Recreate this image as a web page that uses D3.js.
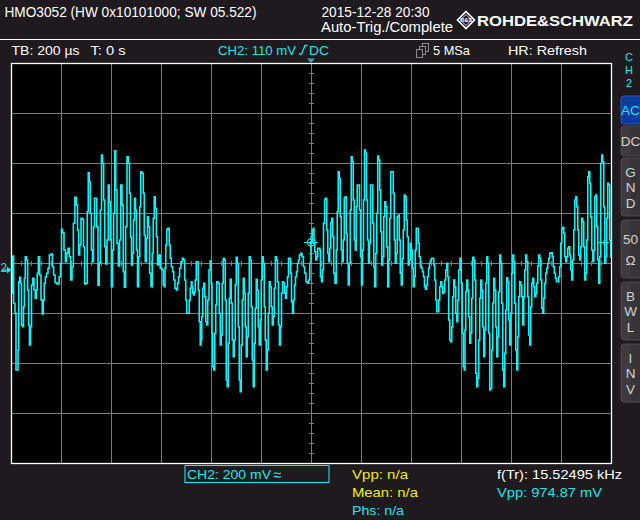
<!DOCTYPE html>
<html><head><meta charset="utf-8">
<script src="https://cdn.jsdelivr.net/npm/d3@7"></script>
<style>
html,body{margin:0;padding:0;background:#1e1a1e;overflow:hidden}
text{font-family:"Liberation Sans",Arial,sans-serif;white-space:pre}
</style>
</head><body><svg id="c" width="640" height="520"></svg>
<script>
// ---- data (time in µs, voltage in mV relative to CH2 ground) ----
const trace = [
[-1197,27],[-1196,-93],[-1192,56],[-1187,-133],[-1181,-173],[-1179,-400],[-1173,-400],[-1171,-320],[-1167,-47],[-1163,-29],
[-1160,-53],[-1156,-220],[-1152,-227],[-1148,-147],[-1145,-33],[-1141,53],[-1136,40],[-1131,-80],[-1128,-220],[-1124,-300],
[-1120,-227],[-1116,-60],[-1111,-33],[-1105,-80],[-1101,-113],[-1097,-80],[-1093,-13],[-1088,53],[-1083,-20],[-1077,-120],
[-1073,-176],[-1069,-120],[-1065,-53],[-1060,-27],[-1055,-13],[-1049,7],[-1044,60],[-1037,64],[-1032,13],[-1027,-20],
[-1020,-51],[-1011,-56],[-1004,-27],[-1000,27],[-996,163],[-991,149],[-985,80],[-980,33],[-975,67],[-969,87],
[-964,53],[-959,-40],[-953,13],[-948,187],[-941,291],[-936,260],[-932,160],[-927,60],[-923,100],[-917,207],
[-912,203],[-908,93],[-903,-56],[-897,-53],[-893,233],[-889,389],[-885,353],[-881,227],[-876,80],[-872,33],
[-868,173],[-864,287],[-859,287],[-855,173],[-849,-61],[-845,27],[-840,240],[-836,460],[-832,427],[-827,280],
[-823,93],[-819,24],[-813,120],[-809,340],[-805,273],[-801,120],[-796,-67],[-792,80],[-787,227],[-783,477],
[-779,320],[-773,107],[-768,16],[-763,120],[-759,340],[-753,260],[-749,-7],[-744,-69],[-739,173],[-733,453],
[-728,427],[-724,307],[-720,133],[-716,20],[-712,67],[-708,200],[-704,287],[-700,240],[-696,80],[-692,-67],
[-687,53],[-683,253],[-679,393],[-673,387],[-669,307],[-665,140],[-661,33],[-656,127],[-652,213],[-648,173],
[-643,-13],[-637,-67],[-633,67],[-629,207],[-625,293],[-621,247],[-616,133],[-612,20],[-607,60],
[-599,7],[-593,0],[-589,-60],[-585,-67],[-583,7],[-579,100],[-575,163],[-569,167],[-565,100],[-561,47],
[-556,13],[-551,-7],[-547,-40],[-541,-73],[-536,-80],[-532,-53],[-528,-27],[-523,7],[-517,33],[-512,47],
[-507,40],[-503,-40],[-499,-120],[-495,-173],[-489,-173],[-485,-120],[-481,-73],[-477,-47],[-475,-67],[-471,-93],
[-468,-100],[-465,-87],[-461,-40],[-457,33],[-453,33],[-449,-80],[-445,-207],[-441,-300],[-439,-280],[-435,-187],
[-431,-73],[-427,-53],[-423,-107],[-419,-207],[-415,-220],[-411,-120],[-405,0],[-401,37],[-397,-53],[-395,-253],
[-391,-387],[-387,-400],[-383,-253],[-379,-140],[-375,-47],[-369,-53],[-365,-173],[-361,-300],[-357,-260],[-353,-53],
[-349,47],[-345,40],[-341,-120],[-337,-440],[-333,-467],[-329,-293],[-325,-113],[-321,-37],[-317,-133],[-313,-280],
[-309,-347],[-305,-280],[-301,-60],[-297,51],[-293,27],[-289,-227],[-285,-440],[-281,-487],[-277,-300],[-273,-120],
[-269,-33],[-265,-93],[-261,-227],[-257,-347],[-253,-267],[-249,-93],[-245,53],[-241,40],[-237,-147],[-233,-360],
[-229,-467],[-225,-293],[-221,-153],[-217,-37],[-213,-80],[-209,-227],[-205,-300],[-201,-200],[-197,-40],[-193,53],
[-189,27],[-185,-147],[-181,-280],[-177,-400],[-173,-320],[-169,-173],[-165,-47],[-161,-67],[-157,-147],[-153,-220],
[-149,-187],[-145,-73],[-140,53],[-136,40],[-132,-47],[-128,-220],[-124,-300],[-120,-227],[-116,-93],[-112,-47],
[-108,-53],[-104,-93],[-100,-113],[-96,-67],[-92,-27],[-88,47],[-84,47],[-80,-13],[-76,-127],[-72,-173],
[-68,-120],[-64,-60],[-60,-27],[-56,-7],[-52,27],[-48,40],[-44,60],[-39,67],[-33,53],[-28,13],
[-23,-13],[-17,-47],[-12,-53],[-7,-40],[-3,27],[3,113],[7,160],[11,167],[13,120],[17,73],
[21,40],[25,53],[29,87],[35,87],
[36,80],[40,-27],[44,-47],[48,0],[52,187],[57,283],[61,287],[65,160],[69,67],[73,33],
[77,87],[81,189],[85,207],[89,133],[93,-13],[99,-53],[103,80],[107,233],[111,393],[115,367],
[119,213],[123,80],[127,33],[131,120],[135,287],[139,293],[143,147],[147,27],[151,-60],[155,27],
[159,240],[163,453],[167,433],[171,280],[175,120],[179,80],[183,253],[187,340],[192,340],[196,240],
[200,53],[204,-60],[208,80],[212,280],[216,480],[220,467],[224,280],[228,120],[232,27],[236,107],
[240,340],[245,340],[249,187],[253,13],[257,-67],[261,67],[265,227],[269,456],[273,440],[277,320],
[281,153],[285,20],[289,53],[293,213],[297,273],[301,253],[305,93],[309,-67],[313,40],[317,207],
[321,393],[327,393],[331,307],[335,120],[339,27],[343,67],[347,213],[351,220],[355,120],[359,-13],
[363,-60],[367,47],[371,160],[375,300],[379,293],[383,200],[387,133],[391,20],[395,40],[399,107],
[403,80],[407,7],[411,-67],[415,-27],[419,80],[423,167],[427,167],[431,107],[435,53],[440,13],
[444,7],[448,-7],[452,-27],[456,-67],[460,-77],[464,-60],[468,-27],[472,7],[476,27],[480,40],
[484,47],[489,47],[493,20],[497,-40],[501,-120],[505,-167],[509,-167],[513,-120],[517,-67],[521,-47],
[525,-67],[529,-93],[533,-87],[537,-40],[541,0],[545,27],[549,-27],[553,-200],[557,-280],[561,-287],
[565,-227],[569,-107],[573,-40],[577,-67],[581,-173],[585,-207],[589,-120],[593,0],
[599,47],[603,-53],[607,-253],[611,-387],[615,-400],[617,-240],[621,-87],[625,-40],[629,-80],[633,-187],
[637,-293],[641,-253],[645,-113],[649,51],[653,40],[657,-40],[661,-413],[665,-467],[669,-433],[673,-280],
[677,-113],[681,-40],[685,-80],[689,-227],[693,-347],[697,-240],[701,-53],[705,53],[709,27],[713,-253],
[717,-480],[721,-473],[725,-320],[729,-133],[733,-33],[737,-80],[741,-227],[745,-347],[749,-267],[753,-87],
[757,60],[761,27],[765,-133],[769,-400],[773,-467],[777,-333],[781,-160],[785,-31],[789,-47],[793,-200],
[797,-300],[801,-173],[805,-13],[809,60],[813,33],[817,-133],[821,-320],[825,-400],[829,-267],[833,-107],
[837,-47],[841,-60],[845,-107],[849,-220],[853,-107],[857,0],[861,60],[865,33],[869,-107],[873,-260],
[877,-300],[881,-147],[885,-53],[889,-33],[893,-67],[897,-107],[901,-93],[905,-53],[909,16],[913,60],
[917,47],[921,-40],[925,-153],[929,-173],[933,-113],[937,-53],[941,-13],[945,7],[949,27],[953,47],
[957,67],[963,69],[967,53],[971,13],[976,-13],[980,-33],[984,-47],[989,-47],[993,-27],[997,13],
[1001,107],[1005,163],[1009,171],[1013,147],[1017,53],[1021,33],[1025,53],[1029,87],[1033,93],[1037,60],
[1041,0],[1045,-40],[1049,40],[1053,160],[1057,280],[1061,293],[1065,253],[1069,160],[1073,60],[1077,40],
[1081,93],[1085,207],[1089,193],[1093,93],[1097,-40],[1101,-13],[1105,120],[1109,373],[1113,393],[1117,347],
[1121,213],[1125,80],[1129,33],[1133,80],[1137,293],[1141,300],[1145,173],[1149,40],[1153,-53],[1157,53],
[1161,427],[1165,460],[1169,433],[1173,253],[1177,27],[1181,53],[1185,207],[1189,347],[1193,340],[1197,120],
[1201,53]
];
const timeDomainUs = [-1200, 1200];      // 12 div × 200 µs
const timePerDivUs = 200;
const voltPerDivMv = 200;
const screenCenterMv = 28;               // CH2 position offset (ground marker below centre)
const triggerLevelMv = 110;
const triggerTimeUs = 0;

const headerTexts = ["HMO3052 (HW 0x10101000; SW 05.522)", "2015-12-28 20:30", "Auto-Trig./Complete", "ROHDE&SCHWARZ"];
const statusTexts = ["TB: 200 µs", "T: 0 s", "CH2: 110 mV", "DC", "5 MSa", "HR: Refresh"];
const sideButtons = [
  {label:["AC"], active:true}, {label:["DC"]}, {label:["G","N","D"]},
  {label:["50","Ω"]}, {label:["B","W","L"]}, {label:["I","N","V"]}
];
const measureLeft = [["Vpp: n/a","#f0ee00"],["Mean: n/a","#f0ee00"],["Phs: n/a","#1ee4ea"]];
const measureRight = [["f(Tr): 15.52495 kHz","#ffffff"],["Vpp: 974.87 mV","#1ee4ea"]];
const channelBox = "CH2: 200 mV";

// ---- drawing ----
const CYAN = "#1ee4ea";
const svg = d3.select("#c");
svg.append("rect").attr("width",640).attr("height",520).attr("fill","#1e1a1e");

const L = 11, R = 611, T = 63, B = 463;
const x = d3.scaleLinear().domain(timeDomainUs).range([L, R]);
const halfV = 4 * voltPerDivMv;
const y = d3.scaleLinear().domain([screenCenterMv - halfV, screenCenterMv + halfV]).range([B, T]);

// header
svg.append("text").attr("x",4.5).attr("y",17).attr("font-size",14).attr("fill","#fff")
  .attr("textLength",252).attr("lengthAdjust","spacingAndGlyphs").text(headerTexts[0]);
svg.append("text").attr("x",321.5).attr("y",16.5).attr("font-size",14).attr("fill","#fff")
  .attr("textLength",108).attr("lengthAdjust","spacingAndGlyphs").text(headerTexts[1]);
svg.append("text").attr("x",321).attr("y",32).attr("font-size",14).attr("fill","#fff")
  .attr("textLength",132).attr("lengthAdjust","spacingAndGlyphs").text(headerTexts[2]);
// R&S logo
const lg = svg.append("g");
lg.append("path").attr("d","M466,11.5 L474.5,20 L466,28.5 L457.5,20 Z").attr("fill","none").attr("stroke","#fff").attr("stroke-width",1.6);
lg.append("path").attr("d","M466,14.5 L471.5,20 L466,25.5 L460.5,20 Z").attr("fill","none").attr("stroke","#fff").attr("stroke-width",0.8);
lg.append("text").attr("x",466).attr("y",22).attr("text-anchor","middle").attr("font-size",5.5).attr("font-weight","bold").attr("fill","#fff").text("R&S");
svg.append("text").attr("x",477).attr("y",25.5).attr("font-size",15).attr("font-weight","bold").attr("fill","#fff")
  .attr("textLength",156).attr("lengthAdjust","spacingAndGlyphs").text(headerTexts[3]);
svg.append("line").attr("x1",0).attr("x2",640).attr("y1",39.5).attr("y2",39.5).attr("stroke","#fff").attr("stroke-width",1);

// status row
const st = (txt,xx,len,col) => svg.append("text").attr("x",xx).attr("y",54.5).attr("font-size",13.5)
  .attr("fill",col).attr("textLength",len).attr("lengthAdjust","spacingAndGlyphs").text(txt);
st(statusTexts[0],11.5,68,"#fff");
st(statusTexts[1],90.5,35,"#fff");
st(statusTexts[2],218,78,CYAN);
svg.append("path").attr("d","M299,54 L301.5,54 L305,45.5 L307.5,45.5").attr("fill","none").attr("stroke",CYAN).attr("stroke-width",1.3);
st(statusTexts[3],309,20,CYAN);
// acquisition icon
const ic = svg.append("g").attr("fill","#1e1a1e").attr("stroke","#8a8a8a").attr("stroke-width",1);
[[422.5,43.5],[419.5,46.5],[416.5,49.5]].forEach(p=>ic.append("rect").attr("x",p[0]).attr("y",p[1]).attr("width",6).attr("height",8));
st(statusTexts[4],433,37,"#fff");
st(statusTexts[5],508,79,"#fff");

// right channel panel
["C","H","2"].forEach((c,i)=>svg.append("text").attr("x",629).attr("y",61+i*13).attr("text-anchor","middle")
  .attr("font-size",11).attr("fill",CYAN).text(c));
const btnY = [[96,124],[126,156],[158,216],[220,278],[282,340],[344,402]];
sideButtons.forEach((b,i)=>{
  const [y0,y1] = btnY[i];
  svg.append("rect").attr("x",621).attr("y",y0).attr("width",24).attr("height",y1-y0).attr("rx",3)
    .attr("fill", b.active ? "#0d3c9e" : "#3d3b3e").attr("stroke", b.active ? "#2a56b8" : "#4c4a4d");
  if(!b.active) svg.append("rect").attr("x",631).attr("y",y0+1).attr("width",9).attr("height",y1-y0-2).attr("fill","#363437");
  const n = b.label.length, mid = (y0+y1)/2, step = n===2 ? 21 : 15.5;
  b.label.forEach((s,j)=>{
    svg.append("text").attr("x",630.5).attr("y",mid + (j-(n-1)/2)*step + 5).attr("text-anchor","middle")
      .attr("font-size",13.5).attr("fill", b.active ? CYAN : "#d2d2d2").text(s);
  });
});

// plot area
svg.append("rect").attr("x",L).attr("y",T).attr("width",R-L).attr("height",B-T).attr("fill","#000");
const grid = svg.append("g").attr("stroke","#7c7c7c").attr("stroke-width",1).attr("shape-rendering","crispEdges");
d3.range(timeDomainUs[0], timeDomainUs[1]+1, timePerDivUs).forEach(t=>{
  grid.append("line").attr("x1",x(t)+0.5).attr("x2",x(t)+0.5).attr("y1",T).attr("y2",B);
});
d3.range(screenCenterMv-halfV, screenCenterMv+halfV+1, voltPerDivMv).forEach(v=>{
  grid.append("line").attr("x1",L).attr("x2",R).attr("y1",y(v)+0.5).attr("y2",y(v)+0.5);
});
// minor ticks on centre axes
d3.range(timeDomainUs[0], timeDomainUs[1]+1, timePerDivUs/5).forEach(t=>{
  grid.append("line").attr("x1",x(t)+0.5).attr("x2",x(t)+0.5).attr("y1",y(screenCenterMv)-2).attr("y2",y(screenCenterMv)+3);
});
d3.range(screenCenterMv-halfV, screenCenterMv+halfV+1, voltPerDivMv/5).forEach(v=>{
  grid.append("line").attr("x1",x(0)-2).attr("x2",x(0)+3).attr("y1",y(v)+0.5).attr("y2",y(v)+0.5);
});

// waveform (sample-and-hold look of the scope display)
svg.append("clipPath").attr("id","plotclip").append("rect").attr("x",L+1).attr("y",T+1).attr("width",R-L-1).attr("height",B-T-1);
const line = d3.line().x(d=>x(d[0])).y(d=>y(d[1])).curve(d3.curveStep);
svg.append("path").datum(trace).attr("d",line).attr("clip-path","url(#plotclip)")
  .attr("fill","none").attr("stroke","#14f0f4").attr("stroke-width",1.6).attr("stroke-linejoin","miter");

// trigger crosshair
const tx = x(triggerTimeUs), ty = y(triggerLevelMv);
const tg = svg.append("g").attr("stroke",CYAN).attr("stroke-width",1.1).attr("fill","none");
tg.append("circle").attr("cx",tx).attr("cy",ty).attr("r",3.6);
tg.append("line").attr("x1",tx-7).attr("x2",tx+7).attr("y1",ty).attr("y2",ty);
tg.append("line").attr("x1",tx).attr("x2",tx).attr("y1",ty-7).attr("y2",ty+7);
// right-edge level mark
const rm = svg.append("g").attr("stroke",CYAN).attr("stroke-width",1.1);
rm.append("line").attr("x1",599).attr("x2",609).attr("y1",ty).attr("y2",ty);
rm.append("line").attr("x1",604).attr("x2",604).attr("y1",ty-3).attr("y2",ty+3);

// border
svg.append("rect").attr("x",L+0.5).attr("y",T+0.5).attr("width",R-L).attr("height",B-T)
  .attr("fill","none").attr("stroke","#fff").attr("stroke-width",1.3);

// trigger time marker (top)
svg.append("path").attr("d",`M${tx-4},58.5 L${tx+4},58.5 L${tx},63 Z`).attr("fill","#3aa9b8");

// channel ground marker (left)
const gy = y(0);
svg.append("text").attr("x",0.5).attr("y",gy+2).attr("font-size",12).attr("fill",CYAN).text("2");
svg.append("path").attr("d",`M2,${gy} L8,${gy}`).attr("stroke",CYAN).attr("stroke-width",1.4);
svg.append("path").attr("d",`M7,${gy-3.5} L11.5,${gy} L7,${gy+3.5} Z`).attr("fill",CYAN);

// bottom info
svg.append("rect").attr("x",185).attr("y",465.5).attr("width",144).attr("height",17).attr("fill","none").attr("stroke",CYAN).attr("stroke-width",1.1);
svg.append("text").attr("x",187).attr("y",479).attr("font-size",13.5).attr("fill",CYAN)
  .attr("textLength",84).attr("lengthAdjust","spacingAndGlyphs").text(channelBox);
// AC-coupling symbol (≈) after the channel scale
svg.append("text").attr("x",273).attr("y",480).attr("font-size",15).attr("fill",CYAN).text("≈");
const mlLens = [56,66,52];
measureLeft.forEach((m,i)=>svg.append("text").attr("x",352).attr("y",479+i*18).attr("font-size",13.5).attr("fill",m[1])
  .attr("textLength",mlLens[i]).attr("lengthAdjust","spacingAndGlyphs").text(m[0]));
const mrLens = [125,105];
measureRight.forEach((m,i)=>svg.append("text").attr("x",497).attr("y",479+i*18).attr("font-size",13.5).attr("fill",m[1])
  .attr("textLength",mrLens[i]).attr("lengthAdjust","spacingAndGlyphs").text(m[0]));
</script></body></html>
